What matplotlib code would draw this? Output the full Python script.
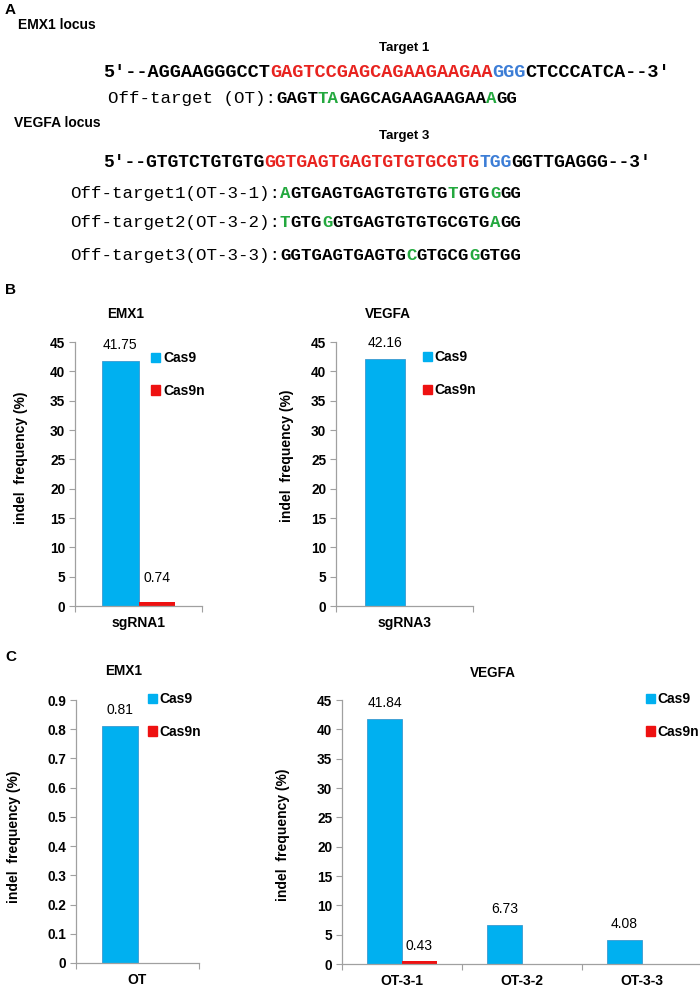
import numpy as np
import matplotlib.pyplot as plt
from matplotlib.patches import Patch

plt.rcParams['font.family'] = ['Liberation Sans', 'DejaVu Sans']
mono = ['Liberation Mono', 'DejaVu Sans Mono']

# colours
BLUE = '#00B0F0'
RED = '#EE1111'
SEQ_RED = '#E8231F'
SEQ_BLUE = '#3C7DD6'
SEQ_GREEN = '#23A83E'

# panel A - sequences (text, colour)
emx1_target = [("5′--AGGAAGGGCCT", "k"), ("GAGTCCGAGCAGAAGAAGAA", SEQ_RED),
               ("GGG", SEQ_BLUE), ("CTCCCATCA--3′", "k")]
emx1_ot_label = "Off-target (OT):"
emx1_ot = [("GAGT", "k"), ("TA", SEQ_GREEN), ("GAGCAGAAGAAGAA", "k"), ("A", SEQ_GREEN), ("GG", "k")]

vegfa_target = [("5′--GTGTCTGTGTG", "k"), ("GGTGAGTGAGTGTGTGCGTG", SEQ_RED),
                ("TGG", SEQ_BLUE), ("GGTTGAGGG--3′", "k")]
vegfa_ot_labels = ["Off-target1(OT-3-1):", "Off-target2(OT-3-2):", "Off-target3(OT-3-3):"]
vegfa_ots = [
    [("A", SEQ_GREEN), ("GTGAGTGAGTGTGTG", "k"), ("T", SEQ_GREEN), ("GTG", "k"), ("G", SEQ_GREEN), ("GG", "k")],
    [("T", SEQ_GREEN), ("GTG", "k"), ("G", SEQ_GREEN), ("GTGAGTGTGTGCGTG", "k"), ("A", SEQ_GREEN), ("GG", "k")],
    [("GGTGAGTGAGTG", "k"), ("C", SEQ_GREEN), ("GTGCG", "k"), ("G", SEQ_GREEN), ("GTGG", "k")],
]

# panel B - on-target indel frequency (%)
b_emx1_cats = ["sgRNA1"]
b_emx1_cas9 = [41.75]
b_emx1_cas9n = [0.74]
b_vegfa_cats = ["sgRNA3"]
b_vegfa_cas9 = [42.16]
b_vegfa_cas9n = [0]

# panel C - off-target indel frequency (%)
c_emx1_cats = ["OT"]
c_emx1_cas9 = [0.81]
c_emx1_cas9n = [0]
c_vegfa_cats = ["OT-3-1", "OT-3-2", "OT-3-3"]
c_vegfa_cas9 = [41.84, 6.73, 4.08]
c_vegfa_cas9n = [0.43, 0, 0]

W, H = 700, 989
fig = plt.figure(figsize=(W / 100, H / 100), dpi=100)
ax0 = fig.add_axes([0, 0, 1, 1])
ax0.set_axis_off()


def fx(px):
    return px / W


def fy(py):
    return 1 - py / H


def seq_line(x0, y0, parts, size, label=None):
    # draw coloured pieces one after another on the same baseline
    prev = None
    if label:
        prev = ax0.annotate(label, xy=(fx(x0), fy(y0)), xycoords='figure fraction',
                            fontsize=size, family=mono, va='baseline', ha='left')
    for txt, col in parts:
        if prev is None:
            prev = ax0.annotate(txt, xy=(fx(x0), fy(y0)), xycoords='figure fraction',
                                fontsize=size, family=mono, weight='bold', color=col,
                                va='baseline', ha='left')
        else:
            prev = ax0.annotate(txt, xy=(1, fy(y0)), xycoords=(prev, 'figure fraction'),
                                fontsize=size, family=mono, weight='bold', color=col,
                                va='baseline', ha='left')


# panel letters and headings
fig.text(fx(5), fy(10), "A", fontsize=11, weight='bold', va='center')
fig.text(fx(5), fy(290), "B", fontsize=11, weight='bold', va='center')
fig.text(fx(5), fy(657), "C", fontsize=11, weight='bold', va='center')

fig.text(fx(18), fy(25), "EMX1 locus", fontsize=10, weight='bold', va='center')
fig.text(fx(404), fy(48), "Target 1", fontsize=9.5, weight='bold', va='center', ha='center')
seq_line(103, 77, emx1_target, 13.4)
seq_line(108, 103, emx1_ot, 12.6, emx1_ot_label)

fig.text(fx(14), fy(123), "VEGFA locus", fontsize=10, weight='bold', va='center')
fig.text(fx(404), fy(136), "Target 3", fontsize=9.5, weight='bold', va='center', ha='center')
seq_line(103, 167, vegfa_target, 13.0)
for i, (lab, parts) in enumerate(zip(vegfa_ot_labels, vegfa_ots)):
    seq_line(70, [198, 227, 260][i], parts, 12.6, lab)


def bar_panel(box, cats, cas9, cas9n, ymax, ystep, title, title_xy, leg_xy, ylab_xy, cas9n_offsets=None):
    l, r, t, b = box
    ax = fig.add_axes([fx(l), fy(b), fx(r - l), (b - t) / H])
    x = np.arange(len(cats))
    w = 0.29
    bars1 = ax.bar(x - w / 2, cas9, w, color=BLUE, edgecolor='#3A9AD0', linewidth=0.6)
    bars2 = ax.bar(x + w / 2, cas9n, w, color=RED, linewidth=0)
    ax.set_xlim(-0.5, len(cats) - 0.5)
    ax.set_ylim(0, ymax)
    yt = np.arange(0, ymax + ystep / 2, ystep)
    ax.set_yticks(yt)
    ax.set_yticklabels([f"{v:.10g}" for v in np.round(yt, 3)], fontsize=9.8, weight='bold')
    ax.set_xticks(x)
    ax.set_xticklabels(cats, fontsize=10, weight='bold')
    ax.set_xticks(np.arange(-0.5, len(cats)), minor=True)
    ax.tick_params(axis='x', which='major', length=0, pad=7)
    ax.tick_params(axis='x', which='minor', length=4, color='#A0A0A0', width=0.8)
    ax.tick_params(axis='y', length=4, color='#A0A0A0', width=0.8, pad=3)
    for s in ['top', 'right']:
        ax.spines[s].set_visible(False)
    for s in ['left', 'bottom']:
        ax.spines[s].set_color('#A0A0A0')
        ax.spines[s].set_linewidth(0.9)
    ax.set_ylabel("indel  frequency (%)", fontsize=10, weight='bold')
    ax.yaxis.set_label_coords(*ylab_xy)
    for bar, v in zip(bars1, cas9):
        ax.annotate(f"{v:.2f}", (bar.get_x() + bar.get_width() / 2, v), xytext=(0, 11.5),
                    textcoords='offset points', ha='center', va='center', fontsize=10)
    for i, (bar, v) in enumerate(zip(bars2, cas9n)):
        if v > 0:
            off = cas9n_offsets[i] if cas9n_offsets else 11.5
            ax.annotate(f"{v:.2f}", (bar.get_x() + bar.get_width() / 2, v), xytext=(0, off),
                        textcoords='offset points', ha='center', va='center', fontsize=10)
    ax.legend([Patch(color=BLUE), Patch(color=RED)], ["Cas9", "Cas9n"], loc='upper left',
              bbox_to_anchor=leg_xy, frameon=False, handlelength=0.65, handleheight=0.65,
              handletextpad=0.2, labelspacing=1.35, borderpad=0, borderaxespad=0,
              prop={'weight': 'bold', 'size': 10})
    fig.text(fx(title_xy[0]), fy(title_xy[1]), title, fontsize=9.8, weight='bold',
             ha='center', va='center')
    return ax


bar_panel((75, 202, 342, 606), b_emx1_cats, b_emx1_cas9, b_emx1_cas9n, 45, 5,
          "EMX1", (126, 314), (0.6, 0.965), (-0.37, 0.56), cas9n_offsets=[17])
bar_panel((336, 473, 342, 606), b_vegfa_cats, b_vegfa_cas9, b_vegfa_cas9n, 45, 5,
          "VEGFA", (388, 314), (0.635, 0.968), (-0.31, 0.57))
bar_panel((76, 199, 700, 963), c_emx1_cats, c_emx1_cas9, c_emx1_cas9n, 0.9, 0.1,
          "EMX1", (124, 671), (0.585, 1.03), (-0.45, 0.48))
bar_panel((342, 702, 700, 964), c_vegfa_cats, c_vegfa_cas9, c_vegfa_cas9n, 45, 5,
          "VEGFA", (493, 673), (0.844, 1.03), (-0.145, 0.49))

fig.savefig("out.png", dpi=100)
